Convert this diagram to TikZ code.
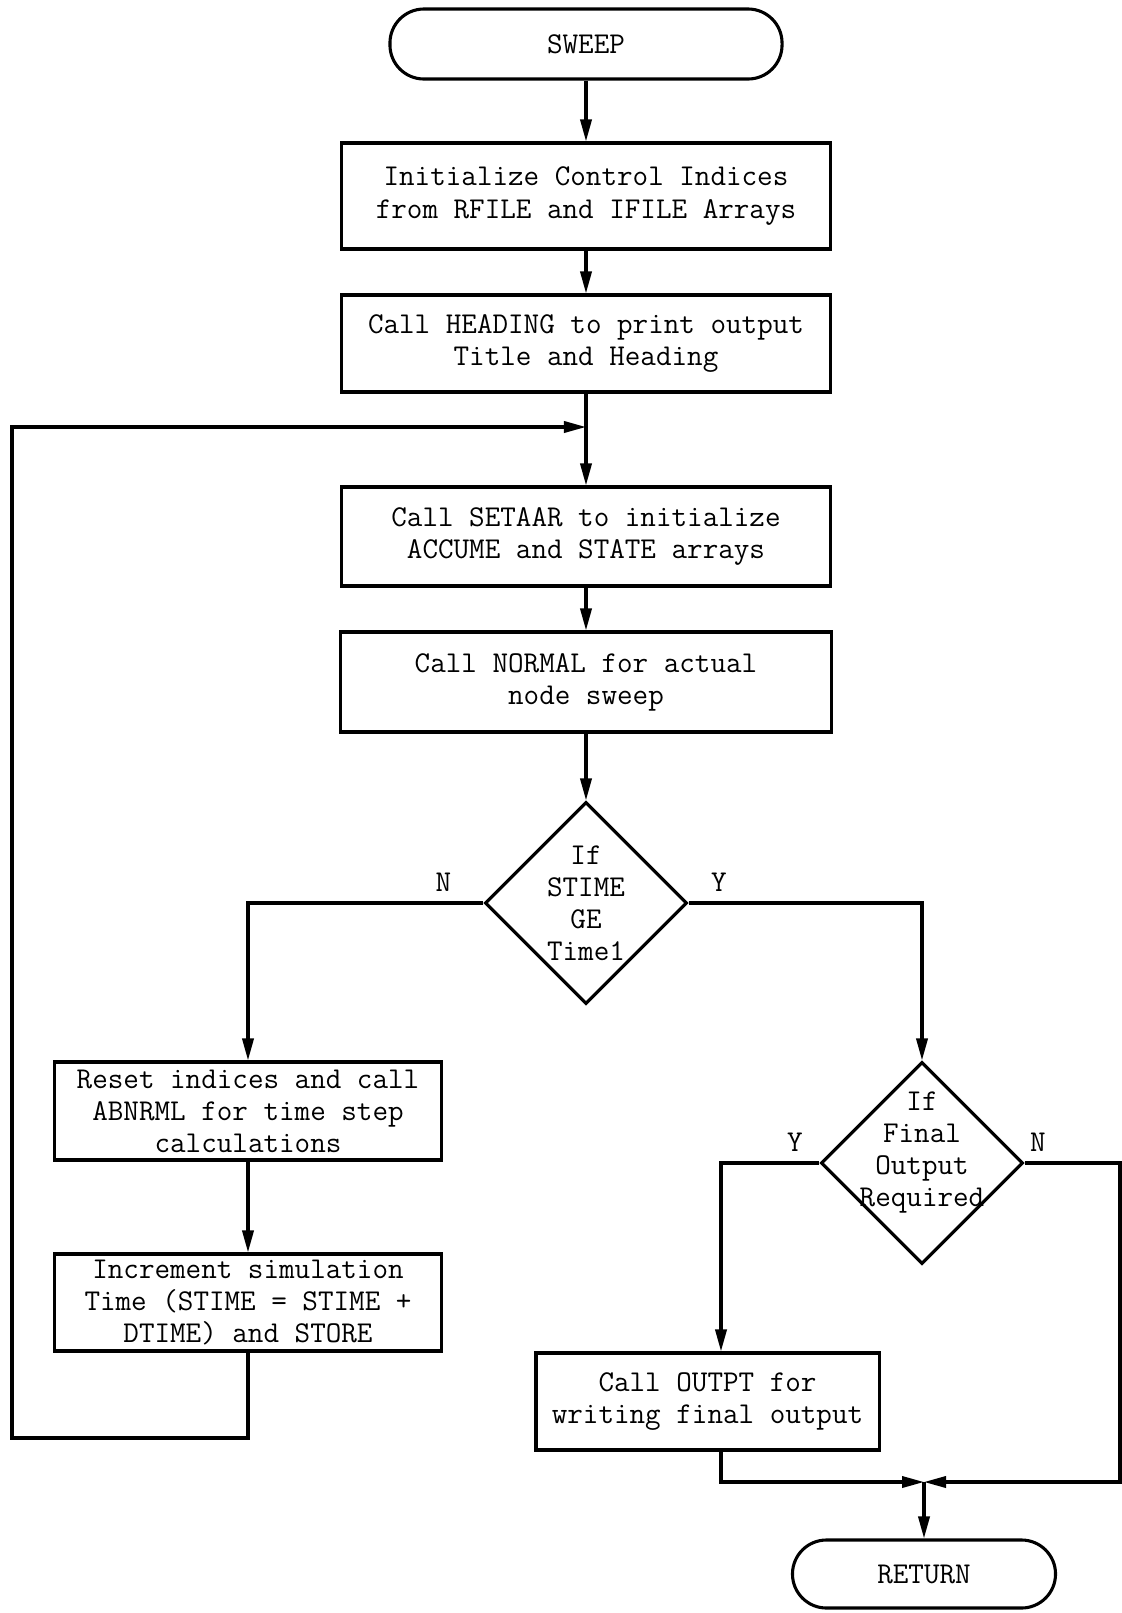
\documentclass[tikz,border=0pt]{standalone}
\usepackage{fontspec}
\usetikzlibrary{positioning,shapes.geometric,arrows.meta}

\begin{document}
\begin{tikzpicture}
[x=0.025cm, y=-0.025cm,
every node/.style={font=\ttfamily\fontsize{21.5}{22.8}\selectfont},
% The terminal style is used for the start and end of the routine
terminal/.style={rectangle, draw, line width=2.2pt, rounded corners=0.85cm, minimum width=9.8cm, minimum height=1.75cm},
% The process style is used for the boxes
process/.style={rectangle, draw, line width=2.2pt, align=center, inner sep=2pt},
% The decision style is used for the tests
decision/.style={diamond, draw, line width=2.2pt, align=center, inner sep=-0.3cm, minimum width=5.05cm, minimum height=5.05cm},
% The answer style is used for the Y and N labels
answer/.style={above=7pt, inner sep=0pt},
flow/.style={line width=2.2pt, -{Triangle[length=0.55cm, width=0.28cm]}}
]
\useasboundingbox (0,0) rectangle (1122,1613);
% Main column
\node [terminal] (sweep) at (586,44) {SWEEP};
\node [process, minimum width=12.225cm, minimum height=2.65cm] (init) at (586,196) {Initialize Control Indices\\from RFILE and IFILE Arrays};
\node [process, minimum width=12.225cm, minimum height=2.425cm] (heading) at (586,343.5) {Call HEADING to print output\\Title and Heading};
\node [process, minimum width=12.225cm, minimum height=2.475cm] (setaar) at (586,536.5) {Call SETAAR to initialize\\ACCUME and STATE arrays};
\node [process, minimum width=12.275cm, minimum height=2.5cm] (normal) at (586,682) {Call NORMAL for actual\\node sweep};
\node [decision] (test1) at (586,903) {If\\STIME\\GE\\Time1};
% Left branch
\node [process, minimum width=9.65cm, minimum height=2.45cm] (reset) at (248,1111) {Reset indices and call\\ABNRML for time step\\calculations};
\node [process, minimum width=9.65cm, minimum height=2.425cm] (incr) at (248,1302.5) {Increment simulation\\Time (STIME = STIME +\\DTIME) and STORE};
% Right branch
\node [decision, text depth=0.7cm, inner sep=-0.55cm] (test2) at (922,1163) {If\\Final\\Output\\Required};
\node [process, minimum width=8.575cm, minimum height=2.425cm] (outpt) at (707.5,1401.5) {Call OUTPT for\\writing final output};
\node [terminal, minimum width=6.575cm, minimum height=1.7cm] (return) at (924,1574) {RETURN};

\coordinate (join) at (586,427);
\coordinate (loopbottom) at (12,1438);
\coordinate (ycol) at (721,1163);
\coordinate (ncol) at (1120,1163);
\coordinate (merge) at (924,1482);

% Draw connectors
\draw[flow] (sweep) -- (init);
\draw[flow] (init) -- (heading);
\draw[flow] (heading) -- (setaar);
\draw[flow] (setaar) -- (normal);
\draw[flow] (normal) -- (test1);
\draw[flow] (test1.west) -- node[answer, pos=0.17]{N} (test1.west -| reset.north) -- (reset.north);
\draw[flow] (reset) -- (incr);
\draw[flow] (incr.south) |- (loopbottom) |- (join);
\draw[flow] (test1.east) -- node[answer, pos=0.13]{Y} (test1.east -| test2.north) -- (test2.north);
\draw[flow] (test2.west) -- node[answer, pos=0.25]{Y} (ycol) -- (outpt.north -| ycol);
\draw[flow] (outpt.south -| ycol) |- (merge);
\draw[flow] (test2.east) -- node[answer, pos=0.14]{N} (ncol) |- (merge);
\draw[flow] (merge) -- (return.north -| merge);
\end{tikzpicture}
\end{document}
